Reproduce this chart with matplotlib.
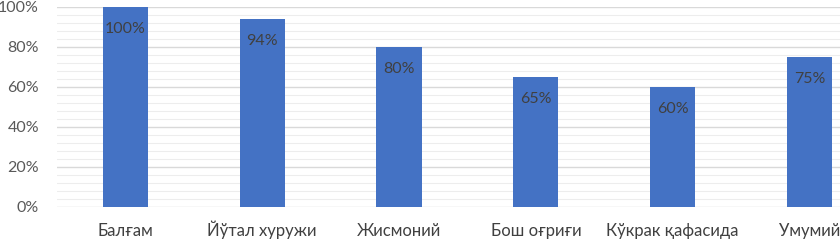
import matplotlib
matplotlib.use("Agg")
import matplotlib.pyplot as plt
import numpy as np
from matplotlib.ticker import MultipleLocator, FuncFormatter

plt.rcParams['font.family'] = ['Lato', 'DejaVu Sans']

# chart data
categories = ["Балғам", "Йўтал хуружи", "Жисмоний", "Бош оғриғи", "Кўкрак қафасида", "Умумий"]
values = [100, 94, 80, 65, 60, 75]
value_labels = ["100%", "94%", "80%", "65%", "60%", "75%"]

fig = plt.figure(figsize=(8.4, 2.4), dpi=100)
ax = fig.add_axes([57 / 840, 33.3 / 240, (840 - 57) / 840, 200 / 240])

x = np.arange(len(categories))
bars = ax.bar(x, values, width=0.33, color='#4472C4', zorder=3)

for xi, v, lab in zip(x, values, value_labels):
    ax.annotate(lab, (xi, v), xytext=(0, -22), textcoords='offset pixels',
                ha='center', va='center', fontsize=11.5, color='#404040', zorder=4)

ax.set_xlim(-0.5, 5 + (840 - 809.5) / 136.8)
ax.set_ylim(0, 100)
ax.yaxis.set_major_locator(MultipleLocator(20))
ax.yaxis.set_minor_locator(MultipleLocator(4))
ax.yaxis.set_major_formatter(FuncFormatter(lambda v, p: f"{v:.0f}%"))
ax.grid(axis='y', which='major', color='#D9D9D9', linewidth=1.0, zorder=0)
ax.grid(axis='y', which='minor', color='#EDEDED', linewidth=0.8, zorder=0)

ax.set_xticks(x)
ax.set_xticklabels(categories)
ax.tick_params(axis='x', length=0, pad=21, labelsize=12, labelcolor='#404040')
for t in ax.get_xticklabels():
    t.set_verticalalignment('baseline')
ax.tick_params(axis='y', which='both', length=0, pad=13, labelsize=11.5, labelcolor='#595959')

for s in ax.spines.values():
    s.set_visible(False)

fig.savefig("out.png", dpi=100)
